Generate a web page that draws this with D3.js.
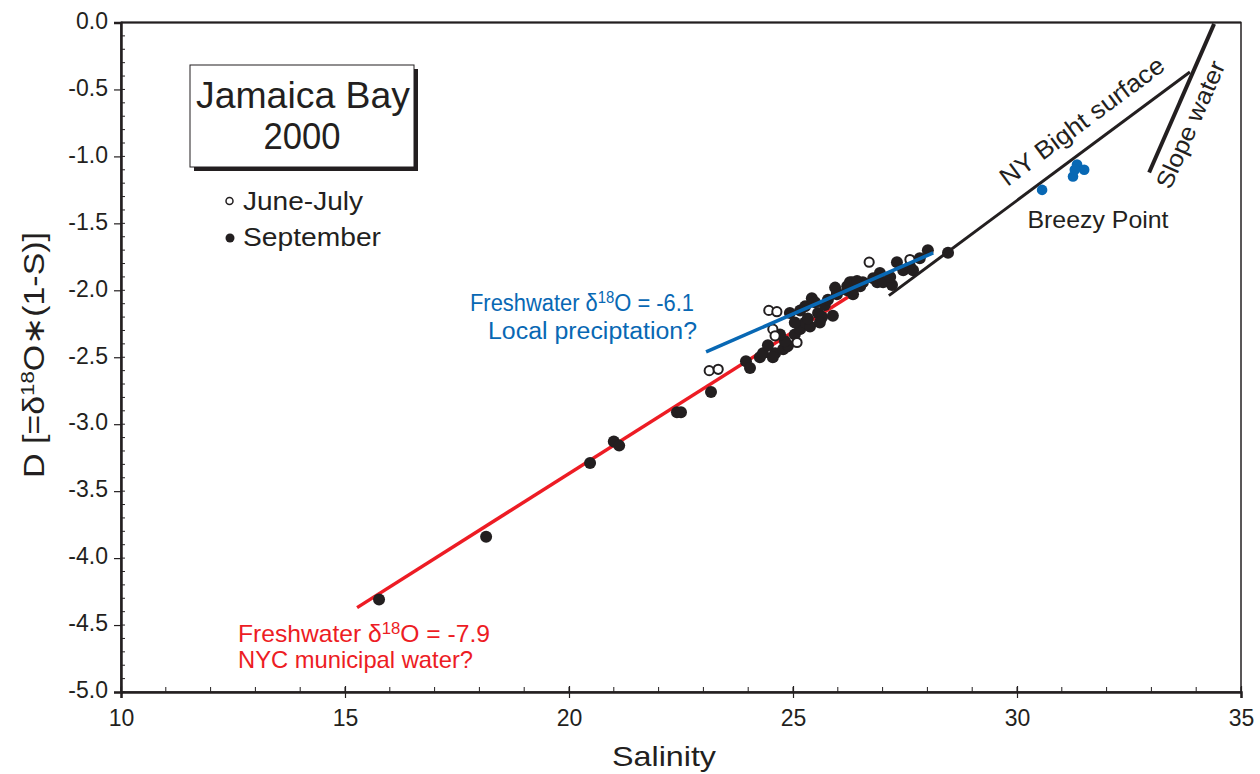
<!DOCTYPE html>
<html><head><meta charset="utf-8">
<script src="https://cdn.jsdelivr.net/npm/d3@7/dist/d3.min.js"></script>
<style>body{margin:0;background:#fff}svg{display:block;font-family:"Liberation Sans",Arial,sans-serif}</style>
</head><body>
<svg id="c" width="1260" height="774"></svg>
<script>
// September (filled) samples: [salinity, D]
const septSal = [15.76,18.15,20.47,21.00,21.12,22.41,22.50,23.17,23.95,24.04,24.26,24.33,24.60,24.87,24.55,24.78,24.89,24.82,24.71,25.04,25.16,25.27,25.38,24.93,25.16,25.27,25.42,25.49,25.56,25.65,25.89,25.71,25.98,26.21,26.32,25.98,26.21,26.34,26.27,26.50,26.56,26.79,26.88,27.01,27.21,26.94,27.17,27.32,27.46,27.61,27.68,27.83,28.01,28.46,25.33,25.94,26.43,25.60,24.44,25.04,25.78];
const septD   = [-4.31,-3.84,-3.29,-3.13,-3.16,-2.91,-2.91,-2.76,-2.53,-2.58,-2.50,-2.47,-2.47,-2.42,-2.50,-2.44,-2.41,-2.38,-2.33,-2.33,-2.29,-2.24,-2.27,-2.17,-2.15,-2.12,-2.06,-2.09,-2.17,-2.20,-2.19,-2.11,-2.03,-1.97,-1.94,-2.02,-2.00,-2.03,-1.94,-1.97,-1.94,-1.91,-1.94,-1.94,-1.96,-1.87,-1.90,-1.79,-1.85,-1.82,-1.85,-1.76,-1.70,-1.72,-2.21,-1.98,-1.93,-2.24,-2.41,-2.24,-2.07];
// June-July (open) samples
const juneSal = [23.13,23.33,24.46,24.64,24.55,24.60,25.09,26.70,27.61];
const juneD   = [-2.60,-2.59,-2.15,-2.16,-2.29,-2.34,-2.39,-1.79,-1.77];
// Breezy Point samples (blue)
const breezySal = [30.56,31.34,31.25,31.50,31.29];
const breezyD   = [-1.25,-1.06,-1.15,-1.10,-1.10];
// Mixing lines [sal0, D0, sal1, D1]
const redLine   = [15.27,-4.37,26.23,-2.05];
const blueLine  = [23.06,-2.46,28.13,-1.72];
const bightLine = [27.14,-2.04,33.86,-0.37];
const slopeLine = [32.95,-1.12,34.40,-0.01];
// Axis ticks
const xTicks = [10,15,20,25,30,35];
const yTicks = [0,-0.5,-1,-1.5,-2,-2.5,-3,-3.5,-4,-4.5,-5];

const svg = d3.select("#c");
const L=121,R=1241,T=22.5,B=692;
const x = d3.scaleLinear().domain([10,35]).range([L,R]);
const y = d3.scaleLinear().domain([-5,0]).range([B,T]);
const RED="#ed1c24", BLUE="#0868b4", INK="#231f20";
const FF="Liberation Sans, Arial, sans-serif";

function txt(g,tx,ty,s,size,col,anchor,len){
  const t=g.append("text").attr("x",tx).attr("y",ty).attr("font-size",size).attr("fill",col)
    .attr("text-anchor",anchor||"start").text(s);
  if(len) t.attr("textLength",len).attr("lengthAdjust","spacingAndGlyphs");
  return t;
}

// frame
svg.append("rect").attr("x",L).attr("y",T).attr("width",R-L).attr("height",B-T)
  .attr("fill","none").attr("stroke",INK).attr("stroke-width",1.5);
svg.append("line").attr("x1",L).attr("x2",R).attr("y1",T).attr("y2",T).attr("stroke",INK).attr("stroke-width",2.2);

// x axis
const xMinor = d3.range(10,35.01,1);
svg.append("g").selectAll("line").data(xMinor).join("line")
  .attr("x1",d=>x(d)).attr("x2",d=>x(d)).attr("y1",B).attr("y2",B-5).attr("stroke",INK).attr("stroke-width",1);
const xAx = d3.axisBottom(x).tickValues(xTicks).tickSize(6).tickFormat(d3.format("d"));
const gx = svg.append("g").attr("transform",`translate(0,${B})`).call(xAx);
gx.select(".domain").attr("stroke",INK).attr("stroke-width",2.5);
gx.selectAll(".tick line").attr("y1",-6).attr("y2",6).attr("stroke",INK).attr("stroke-width",1.2);
gx.selectAll(".tick text").attr("font-size",23).attr("fill",INK).attr("dy",0).attr("y",34).attr("font-family",FF);

// y axis
const yMinor = d3.range(-50,1,1).map(v=>v/10);
svg.append("g").selectAll("line").data(yMinor).join("line")
  .attr("x1",L).attr("x2",L+4).attr("y1",d=>y(d)).attr("y2",d=>y(d)).attr("stroke",INK).attr("stroke-width",1);
const yAx = d3.axisLeft(y).tickValues(yTicks).tickSize(7).tickFormat(d3.format(".1f"));
const gy = svg.append("g").attr("transform",`translate(${L},0)`).call(yAx);
gy.select(".domain").attr("stroke",INK).attr("stroke-width",2.5);
gy.selectAll(".tick line").attr("stroke",INK).attr("stroke-width",1.2);
gy.selectAll(".tick text").attr("font-size",23).attr("fill",INK).attr("x",-13).attr("dy","0.25em").attr("font-family",FF)
  .text(d=>d===0?"0.0":d3.format(".1f")(d).replace("−","-"));

// lines
function seg(a,col,w){
  svg.append("line").attr("x1",x(a[0])).attr("y1",y(a[1])).attr("x2",x(a[2])).attr("y2",y(a[3]))
    .attr("stroke",col).attr("stroke-width",w);
}
seg(redLine,RED,3.5);

// points
svg.append("g").selectAll("circle").data(septSal.map((s,i)=>[s,septD[i]])).join("circle")
  .attr("cx",d=>x(d[0])).attr("cy",d=>y(d[1])).attr("r",6).attr("fill",INK);
svg.append("g").selectAll("circle").data(juneSal.map((s,i)=>[s,juneD[i]])).join("circle")
  .attr("cx",d=>x(d[0])).attr("cy",d=>y(d[1])).attr("r",4.6).attr("fill","#fff").attr("stroke",INK).attr("stroke-width",2);
seg(blueLine,BLUE,3.5);
seg(bightLine,INK,3);
seg(slopeLine,INK,4);
svg.append("g").selectAll("circle").data(breezySal.map((s,i)=>[s,breezyD[i]])).join("circle")
  .attr("cx",d=>x(d[0])).attr("cy",d=>y(d[1])).attr("r",5.3).attr("fill",BLUE);

// title box
svg.append("rect").attr("x",194).attr("y",69).attr("width",224).attr("height",102).attr("fill",INK);
svg.append("rect").attr("x",190).attr("y",65).attr("width",224).attr("height",102).attr("fill","#fff").attr("stroke",INK).attr("stroke-width",1);
txt(svg,303,108,"Jamaica Bay",37,INK,"middle",214);
txt(svg,302,149,"2000",37,INK,"middle",77);

// legend
svg.append("circle").attr("cx",229.5).attr("cy",201).attr("r",3.5).attr("fill","#fff").attr("stroke",INK).attr("stroke-width",1.5);
txt(svg,243,210,"June-July",25,INK,"start",120);
svg.append("circle").attr("cx",230).attr("cy",238).attr("r",4.5).attr("fill",INK);
txt(svg,243,246,"September",25,INK,"start",138);

// annotations
function iso(tx,ty,anchor,col,val,size,len){
  const t = svg.append("text").attr("x",tx).attr("y",ty).attr("text-anchor",anchor).attr("font-size",size).attr("fill",col)
    .attr("textLength",len).attr("lengthAdjust","spacingAndGlyphs");
  t.append("tspan").text("Freshwater δ");
  t.append("tspan").attr("font-size",size*0.68).attr("dy",-size*0.35).text("18");
  t.append("tspan").attr("dy",size*0.35).text("O = "+val);
}
iso(470,311,"start",BLUE,"-6.1",23,224);
txt(svg,488,339,"Local preciptation?",23,BLUE,"start",209);
iso(238,642,"start",RED,"-7.9",24,252);
txt(svg,238,668,"NYC municipal water?",24,RED,"start",235);

svg.append("text").attr("transform","translate(1087,128) rotate(-36.6)").attr("text-anchor","middle").attr("font-size",25).attr("fill",INK)
  .attr("textLength",198).attr("lengthAdjust","spacingAndGlyphs").text("NY Bight surface");
svg.append("text").attr("transform","translate(1198,128) rotate(-66)").attr("text-anchor","middle").attr("font-size",24).attr("fill",INK)
  .attr("textLength",137).attr("lengthAdjust","spacingAndGlyphs").text("Slope water");
txt(svg,1098,228,"Breezy Point",24,INK,"middle",141);

// axis titles
txt(svg,664,766,"Salinity",28,INK,"middle",104);
const yl = svg.append("text").attr("transform","translate(44,355) rotate(-90)").attr("text-anchor","middle").attr("font-size",29).attr("fill",INK)
  .attr("textLength",246).attr("lengthAdjust","spacingAndGlyphs");
yl.append("tspan").text("D [=δ");
yl.append("tspan").attr("font-size",19).attr("dy",-10).text("18");
yl.append("tspan").attr("dy",10).text("O∗(1-S)]");
</script>
</body></html>
